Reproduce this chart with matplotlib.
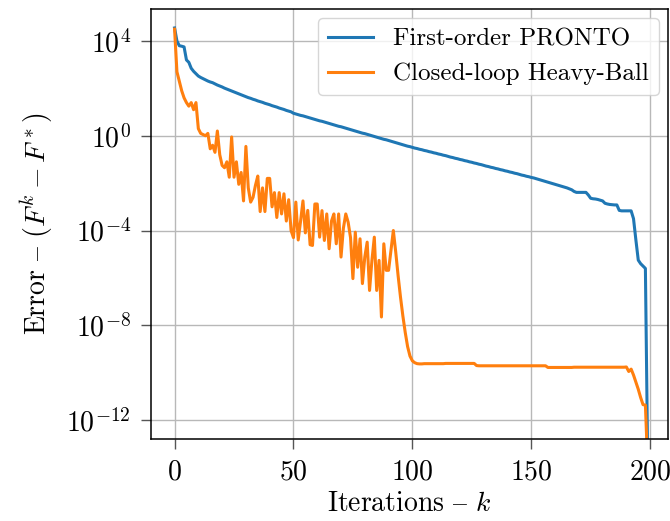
import numpy as np
import matplotlib
matplotlib.use("Agg")
from matplotlib import pyplot as plt

# log10 of the error, one value per iteration
iterations = np.arange(200)

pronto_log = [
    4.55, 4.0, 3.8, 3.78, 3.75, 3.2, 3.1, 2.85, 2.72, 2.62,
    2.52, 2.46, 2.41, 2.36, 2.31, 2.27, 2.24, 2.19, 2.14, 2.10,
    2.06, 2.01, 1.97, 1.93, 1.89, 1.85, 1.81, 1.77, 1.73, 1.69,
    1.65, 1.61, 1.58, 1.54, 1.51, 1.47, 1.44, 1.41, 1.37, 1.34,
    1.31, 1.27, 1.24, 1.21, 1.17, 1.14, 1.11, 1.07, 1.04, 1.01,
    0.95, 0.92, 0.89, 0.86, 0.84, 0.81, 0.78, 0.75, 0.72, 0.69,
    0.66, 0.63, 0.61, 0.58, 0.55, 0.52, 0.49, 0.46, 0.43, 0.40,
    0.38, 0.35, 0.32, 0.29, 0.26, 0.23, 0.20, 0.17, 0.14, 0.11,
    0.09, 0.06, 0.03, 0.00, -0.03, -0.06, -0.09, -0.12, -0.15, -0.17,
    -0.20, -0.23, -0.26, -0.29, -0.32, -0.35, -0.38, -0.41, -0.44, -0.46,
    -0.49, -0.52, -0.54, -0.57, -0.59, -0.62, -0.64, -0.67, -0.69, -0.72,
    -0.74, -0.77, -0.79, -0.82, -0.84, -0.87, -0.90, -0.92, -0.95, -0.97,
    -1.00, -1.02, -1.05, -1.07, -1.10, -1.12, -1.15, -1.17, -1.20, -1.22,
    -1.25, -1.28, -1.30, -1.33, -1.35, -1.38, -1.40, -1.43, -1.45, -1.48,
    -1.50, -1.53, -1.55, -1.58, -1.60, -1.63, -1.66, -1.68, -1.71, -1.73,
    -1.76, -1.78, -1.81, -1.84, -1.87, -1.90, -1.93, -1.96, -1.99, -2.02,
    -2.05, -2.08, -2.11, -2.14, -2.17, -2.20, -2.24, -2.28, -2.35, -2.39,
    -2.39, -2.39, -2.39, -2.39, -2.50, -2.64, -2.66, -2.67, -2.69, -2.72,
    -2.75, -2.85, -2.88, -2.90, -2.91, -2.92, -2.92, -3.15, -3.17, -3.17,
    -3.17, -3.17, -3.17, -3.50, -4.40, -5.25, -5.40, -5.50, -5.60, -14.0,
]

heavy_ball_log = [
    4.5, 2.7, 2.3, 1.9, 1.6, 1.4, 1.25, 1.4, 1.1, 1.4,
    0.3, 0.1, 0.05, 0.0, 0.1, -0.55, -0.4, -0.7, 0.2, -0.8,
    -1.25, -1.35, -1.1, -1.75, -0.05, -1.75, -1.1, -2.05, -1.55, -2.75,
    -0.45, -2.2, -2.8, -2.6, -2.1, -1.7, -3.2, -2.2, -3.2, -1.8,
    -1.8, -3.0, -2.4, -3.45, -2.4, -3.3, -2.45, -3.6, -2.7, -4.0,
    -4.3, -2.8, -4.4, -3.6, -2.75, -4.1, -3.15, -4.6, -4.63, -2.88,
    -2.88, -4.28, -3.16, -4.42, -3.3, -4.77, -3.6, -3.3, -4.56, -3.3,
    -5.12, -3.9, -3.3, -3.65, -4.3, -6.03, -4.07, -5.55, -4.35, -6.24,
    -5.12, -4.49, -6.53, -5.26, -4.28, -6.53, -5.26, -7.65, -4.56, -5.68,
    -5.68, -4.85, -4.0, -4.9, -5.9, -6.8, -7.6, -8.3, -8.9, -9.3,
    -9.5, -9.58, -9.62, -9.63, -9.63, -9.62, -9.62, -9.62, -9.62, -9.62,
    -9.62, -9.62, -9.62, -9.62, -9.61, -9.61, -9.61, -9.61, -9.61, -9.61,
    -9.61, -9.61, -9.61, -9.61, -9.61, -9.61, -9.61, -9.70, -9.71, -9.71,
    -9.71, -9.71, -9.71, -9.71, -9.71, -9.71, -9.71, -9.71, -9.71, -9.71,
    -9.71, -9.71, -9.71, -9.71, -9.71, -9.71, -9.71, -9.71, -9.71, -9.71,
    -9.71, -9.71, -9.71, -9.71, -9.71, -9.71, -9.71, -9.78, -9.78, -9.78,
    -9.78, -9.78, -9.78, -9.78, -9.78, -9.78, -9.78, -9.78, -9.77, -9.77,
    -9.77, -9.77, -9.77, -9.77, -9.77, -9.77, -9.77, -9.77, -9.77, -9.77,
    -9.77, -9.77, -9.77, -9.77, -9.77, -9.77, -9.77, -9.77, -9.77, -9.77,
    -9.76, -9.95, -9.85, -10.1, -10.4, -10.7, -11.05, -11.35, -11.37, -14.0,
]

labels = ["First-order PRONTO", "Closed-loop Heavy-Ball"]
y_ticks = [1e4, 1e0, 1e-4, 1e-8, 1e-12]
x_ticks = [0, 50, 100, 150, 200]

plt.rcParams["font.family"] = ["cmr10", "DejaVu Serif"]
plt.rcParams["mathtext.fontset"] = "cm"
plt.rcParams["axes.formatter.use_mathtext"] = True
plt.rcParams["font.size"] = 18

fig = plt.figure(figsize=(6.7, 5.21), dpi=100)
ax = fig.add_axes([0.2254, 0.1574, 0.7716, 0.8253])

ax.semilogy(iterations, 10.0 ** np.array(pronto_log), color="#1f77b4", lw=2.2, label=labels[0])
ax.semilogy(iterations, 10.0 ** np.array(heavy_ball_log), color="#ff7f0e", lw=2.2, label=labels[1])

ax.set_xlim(-9.9, 207.5)
ax.set_ylim(10 ** -12.8, 10 ** 5.35)
ax.set_xticks(x_ticks)
ax.set_yticks(y_ticks)
ax.yaxis.set_minor_locator(matplotlib.ticker.NullLocator())
ax.tick_params(labelsize=20, length=7.5, width=1.0, pad=7, color="#555555")
ax.grid(True, color="#b8b8b8", lw=1.0)
ax.set_axisbelow(True)
for sp in ax.spines.values():
    sp.set_linewidth(1.1)

ax.set_xlabel("Iterations $\u2013$ $k$", fontsize=20, labelpad=4)
ax.set_ylabel("Error $\u2013$ $(F^k - F^*)$", fontsize=20, labelpad=8)
ax.legend(loc="upper right", fancybox=True, framealpha=0.8, borderaxespad=0.35,
          handlelength=1.8)

fig.savefig("out.png", dpi=100)
